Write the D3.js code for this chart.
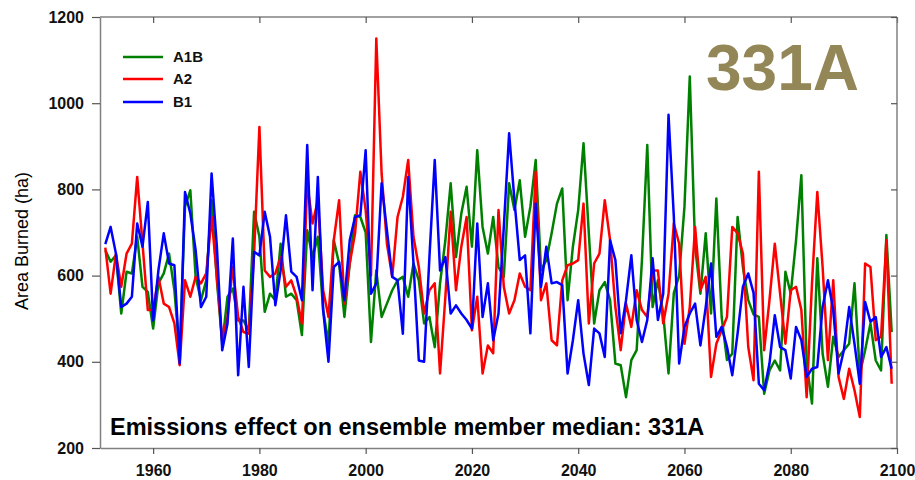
<!DOCTYPE html>
<html>
<head>
<meta charset="utf-8">
<script src="https://cdn.jsdelivr.net/npm/d3@7"></script>
<style>
  html, body { margin: 0; padding: 0; background: #fff; }
  svg { display: block; font-family: "Liberation Sans", Arial, sans-serif; }
</style>
</head>
<body>
<svg id="chart" width="915" height="480"></svg>
<script>
// ---- data ----
const startYear = 1951;
const seriesNames = ["A1B", "A2", "B1"];
const seriesColors = ["#008000", "#ff0000", "#0000ff"];
const xTicks = [1960, 1980, 2000, 2020, 2040, 2060, 2080, 2100];
const yTicks = [200, 400, 600, 800, 1000, 1200];

const a1b = [
 659,632,647,512,609,605,690,574,562,477, 582,605,651,566,419,760,798,597,543,589,
 775,589,442,551,570,496,496,473,748,690, 516,558,543,674,551,558,543,462,705,643,
 690,520,442,682,628,504,628,740,736,700, 446,612,504,535,566,589,597,551,628,589,
 489,504,434,582,682,814,643,744,806,667, 891,713,651,736,620,597,814,752,821,690,
 760,868,612,636,698,767,802,543,667,752, 907,698,489,566,585,543,396,392,318,404,
 427,636,903,527,589,512,373,560,600,760, 1062,667,558,698,512,779,504,404,419,736,
 620,543,510,504,326,380,403,380,609,558, 682,833,396,303,640,419,342,458,411,427,
 442,582,372,427,489,403,380,694,469
];
const a2 = [
 665,558,651,574,651,674,829,674,520,520, 597,535,527,489,392,589,551,597,582,605,
 736,597,450,504,620,504,469,465,651,945, 612,597,605,643,574,589,551,489,814,721,
 775,566,504,682,775,535,628,698,841,752, 600,1150,837,674,597,736,783,868,690,620,
 512,566,582,373,551,748,566,667,736,473, 551,373,438,420,752,574,512,543,605,574,
 566,841,543,582,450,438,589,624,628,636, 767,489,628,651,775,682,527,427,535,481,
 566,520,504,612,612,489,558,721,674,442, 527,713,566,597,365,442,473,504,713,698,
 651,435,357,841,427,543,674,558,442,566, 574,520,318,582,794,620,404,589,365,314,
 384,334,272,628,620,450,458,682,349
];
const b1 = [
 673,713,651,527,535,551,721,667,771,496, 613,698,628,624,396,794,744,659,527,551,
 837,667,427,489,686,369,574,388,655,647, 748,690,531,612,740,609,597,543,903,566,
 829,520,400,620,632,543,682,736,740,891, 558,582,814,705,597,589,465,829,628,403,
 400,643,868,612,643,512,531,512,497,477, 721,504,582,450,512,713,930,775,636,647,
 466,767,574,667,582,585,578,373,450,543, 419,346,477,466,411,682,636,466,543,647,
 497,446,497,640,497,558,973,736,396,481, 512,535,438,527,628,458,481,435,369,466,
 574,605,560,349,334,396,508,434,427,361, 481,450,365,384,388,527,589,520,373,427,
 527,442,349,539,493,504,411,434,384
];
const seriesValues = [a1b, a2, b1];

// ---- layout ----
const svg = d3.select("#chart");
const padL = 100, padR = 897, padT = 17, padB = 448;
const x = d3.scaleLinear().domain([1950, 2100]).range([padL, padR]);
const y = d3.scaleLinear().domain([200, 1200]).range([padB, padT]);
const frameColor = "#808080";
const labelFont = "bold 16px 'Liberation Sans', Arial, sans-serif";

// series
const line = d3.line().x(d => x(d.year)).y(d => y(d.value));
seriesValues.forEach((vals, i) => {
  const pts = vals.map((v, k) => ({ year: startYear + k, value: v }));
  svg.append("path")
    .datum(pts)
    .attr("d", line)
    .attr("fill", "none")
    .attr("stroke", seriesColors[i])
    .attr("stroke-width", 2.5)
    .attr("stroke-linejoin", "round");
});

// axes
const xAxis = svg.append("g").attr("transform", `translate(0,${padB})`)
  .call(d3.axisBottom(x).tickValues(xTicks).tickFormat(d3.format("d")).tickSize(6).tickSizeOuter(0).tickPadding(11));
const yAxis = svg.append("g").attr("transform", `translate(${padL},0)`)
  .call(d3.axisLeft(y).tickValues(yTicks).tickFormat(d3.format("d")).tickSize(8).tickSizeOuter(0).tickPadding(8));
const xTop = svg.append("g").attr("transform", `translate(0,${padT})`)
  .call(d3.axisBottom(x).tickValues(xTicks).tickFormat("").tickSize(6).tickSizeOuter(0));
const yRight = svg.append("g").attr("transform", `translate(${padR},0)`)
  .call(d3.axisLeft(y).tickValues(yTicks).tickFormat("").tickSize(6).tickSizeOuter(0));

[xAxis, yAxis, xTop, yRight].forEach(g => {
  g.select(".domain").attr("stroke", frameColor).attr("stroke-width", 1.5);
  g.selectAll(".tick line").attr("stroke", "#555").attr("stroke-width", 1.2);
  g.selectAll(".tick text").attr("fill", "#111")
    .style("font", labelFont);
});
xTop.select(".domain").attr("d", `M${padL},0H${padR}`);
yRight.select(".domain").attr("d", `M0,${padT}V${padB}`);

// y axis title
svg.append("text")
  .attr("transform", "translate(28,241) rotate(-90)")
  .attr("text-anchor", "middle")
  .style("font-size", "18px")
  .attr("fill", "#000")
  .text("Area Burned (ha)");

// legend
const legendRows = [57, 79, 102];
seriesNames.forEach((name, i) => {
  svg.append("line")
    .attr("x1", 123).attr("x2", 163)
    .attr("y1", legendRows[i]).attr("y2", legendRows[i])
    .attr("stroke", seriesColors[i]).attr("stroke-width", 2.5);
  svg.append("text")
    .attr("x", 173).attr("y", legendRows[i])
    .attr("dy", "0.36em")
    .style("font-weight", "bold").style("font-size", "15px")
    .attr("fill", "#111")
    .text(name);
});

// big region label
svg.append("text")
  .attr("x", 706).attr("y", 90)
  .style("font-weight", "bold").style("font-size", "64px")
  .attr("fill", "#948757")
  .text("331A");

// annotation
svg.append("text")
  .attr("x", 110).attr("y", 435)
  .style("font-weight", "bold").style("font-size", "23.5px")
  .attr("fill", "#000")
  .text("Emissions effect on ensemble member median: 331A");
</script>
</body>
</html>
